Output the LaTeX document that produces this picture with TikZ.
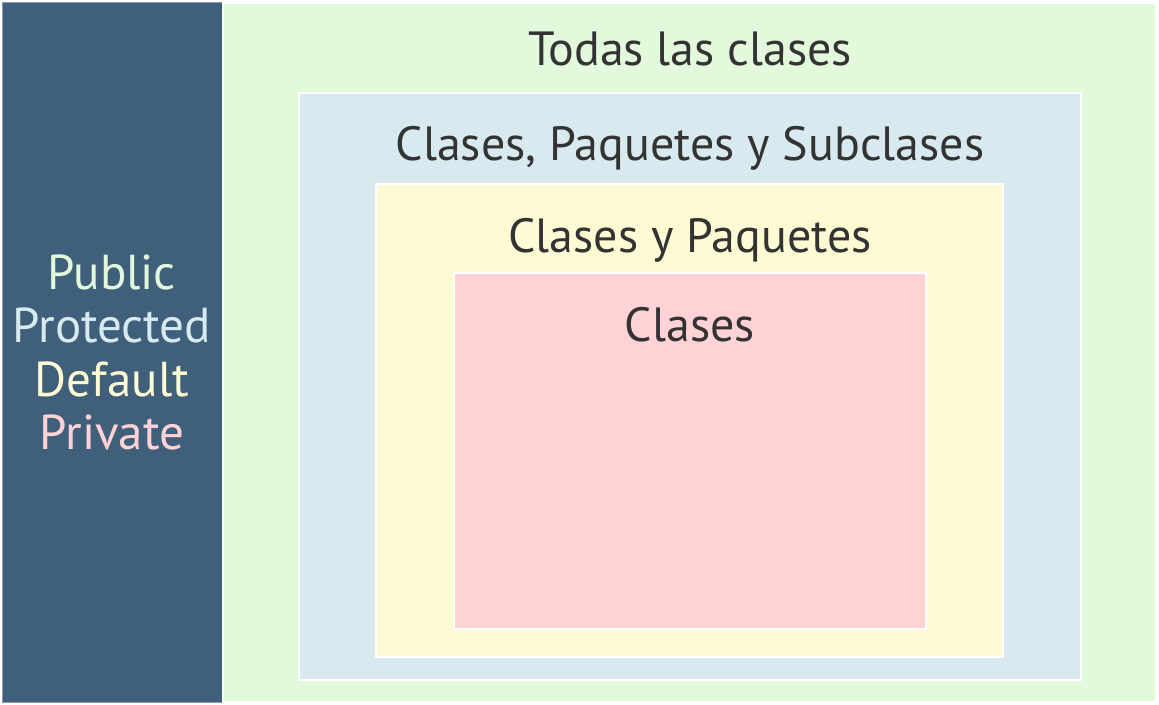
\documentclass[tikz,border=0pt]{standalone}
\usepackage{fontspec}
\setmainfont{PT Sans}
\usetikzlibrary{positioning}

\definecolor{panelblue}{HTML}{3F5F7B}
\definecolor{panelline}{HTML}{8A9CAE}
\definecolor{allgreen}{HTML}{E2F9DC}
\definecolor{subblue}{HTML}{D8EAF0}
\definecolor{pkgyellow}{HTML}{FEFBD4}
\definecolor{clspink}{HTML}{FFD3D5}
\definecolor{textgray}{HTML}{333333}

\begin{document}
\begin{tikzpicture}[x=0.5pt, y=-0.5pt,
    area/.style = {draw=white, line width=1pt},
    title/.style = {anchor=base, text=textgray, inner sep=0pt,
                    font=\fontsize{24}{28}\selectfont},
    level/.style = {anchor=base, inner sep=0pt,
                    font=\fontsize{24.5}{28}\selectfont}]
  \useasboundingbox (0,0) rectangle (1159,705);
  \fill[white] (0,0) rectangle (1159,705);

  % access modifiers column
  \filldraw[fill=panelblue, draw=panelline, line width=0.5pt] (2,3) rectangle (222,702);

  % nested scopes
  \filldraw[area, fill=allgreen]  (223,3)   rectangle (1156,702);
  \filldraw[area, fill=subblue]   (299,93)  rectangle (1081,680);
  \filldraw[area, fill=pkgyellow] (376,184) rectangle (1003,657);
  \filldraw[area, fill=clspink]   (454,273) rectangle (926,629);

  \node[title] (todas)    at (690,66)  {Todas las clases};
  \node[title] (subclass) at (690,161) {Clases, Paquetes y Subclases};
  \node[title] (paquetes) at (690,253) {Clases y Paquetes};
  \node[title] (clases)   at (690,341) {Clases};

  \node[level, text=allgreen]  (public)    at (112,290) {Public};
  \node[level, text=subblue]   (protected) at (112,342) {Protected};
  \node[level, text=pkgyellow] (default)   at (112,396) {Default};
  \node[level, text=clspink]   (private)   at (112,449) {Private};
\end{tikzpicture}
\end{document}
